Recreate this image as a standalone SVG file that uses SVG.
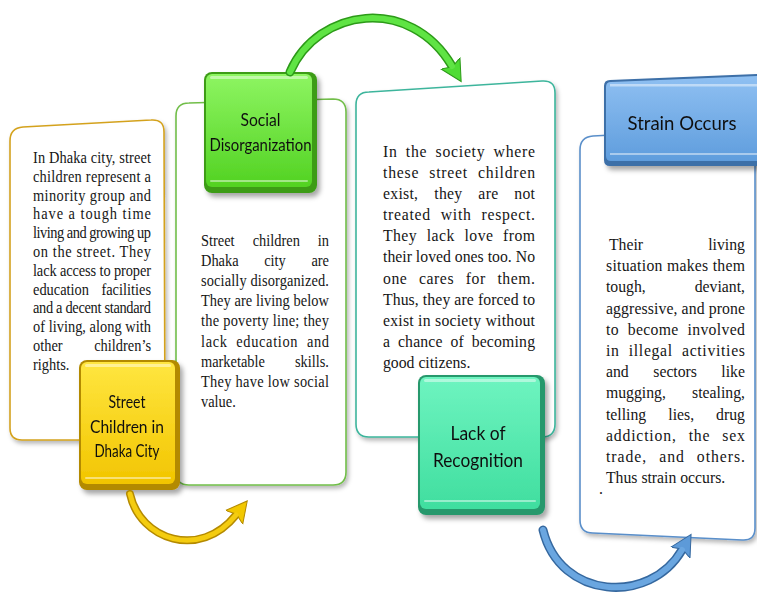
<svg xmlns="http://www.w3.org/2000/svg" width="757" height="592" viewBox="0 0 757 592">
<style>
.card{fill:#fff;stroke-width:1.6;filter:url(#sh)}
.body{font-family:"Liberation Serif","Times New Roman",serif;fill:#161616}
.b1{font-size:16px}.b2{font-size:16px}.b3{font-size:17.5px}.b4{font-size:17.5px}
.ttl{font-family:Lato,"Liberation Sans",sans-serif;fill:#111;text-anchor:middle}
.hl{fill:#fff;opacity:.45}
.end{text-anchor:end}.mid{text-anchor:middle}
</style>
<defs>
<filter id="sh" x="-10%" y="-10%" width="130%" height="130%"><feDropShadow dx="2" dy="3" stdDeviation="2" flood-color="#000" flood-opacity=".28"/></filter>
<filter id="bsh" x="-15%" y="-15%" width="140%" height="140%"><feDropShadow dx="3" dy="4" stdDeviation="2.5" flood-color="#000" flood-opacity=".35"/></filter>
<linearGradient id="gG" x1="0" y1="0" x2="0" y2="1"><stop offset="0" stop-color="#8ef562"/><stop offset="1" stop-color="#52d222"/></linearGradient>
<linearGradient id="gY" x1="0" y1="0" x2="0" y2="1"><stop offset="0" stop-color="#ffe640"/><stop offset="1" stop-color="#f2c500"/></linearGradient>
<linearGradient id="gT" x1="0" y1="0" x2="0" y2="1"><stop offset="0" stop-color="#6ef4c0"/><stop offset="1" stop-color="#40de9f"/></linearGradient>
<linearGradient id="gB" x1="0" y1="0" x2="0" y2="1"><stop offset="0" stop-color="#8fc0f2"/><stop offset="1" stop-color="#5f9ddd"/></linearGradient>
<marker id="mY" viewBox="0 0 24 24" markerWidth="24" markerHeight="24" refX="3" refY="12" orient="auto" markerUnits="userSpaceOnUse"><path d="M0,1 L21,12 L0,23 L4,12 Z" fill="#f2c800" stroke="#b48a00" stroke-width="1"/></marker>
<marker id="mG" viewBox="0 0 24 24" markerWidth="24" markerHeight="24" refX="3" refY="12" orient="auto" markerUnits="userSpaceOnUse"><path d="M0,1 L21,12 L0,23 L4,12 Z" fill="#4fdc34" stroke="#2c9a18" stroke-width="1"/></marker>
<marker id="mB" viewBox="0 0 24 24" markerWidth="24" markerHeight="24" refX="3" refY="12" orient="auto" markerUnits="userSpaceOnUse"><path d="M0,1 L21,12 L0,23 L4,12 Z" fill="#5d9ad8" stroke="#35689f" stroke-width="1"/></marker>
</defs>
<rect width="757" height="592" fill="#fff"/>

<g id="card1">
<path class="card" stroke="#d4a21e" d="M10,141 Q10,128 23,127 L151,120 Q164,119 164,132 L165,428 Q165,440 153,440 L22,440 Q10,440 10,428 Z"/>
<g class="body b1" transform="matrix(0.9,0,0,1,3.3,0)">
<text x="33" y="163" textLength="131.1" lengthAdjust="spacing">In Dhaka city, street</text>
<text x="33" y="181.8" textLength="131.1" lengthAdjust="spacing">children represent a</text>
<text x="33" y="200.6" textLength="131.1" lengthAdjust="spacing">minority group and</text>
<text x="33" y="219.4" textLength="131.1" lengthAdjust="spacing">have a tough time</text>
<text x="33" y="238.2" textLength="131.1" lengthAdjust="spacing">living and growing up</text>
<text x="33" y="257" textLength="131.1" lengthAdjust="spacing">on the street. They</text>
<text x="33" y="275.8" textLength="131.1" lengthAdjust="spacing">lack access to proper</text>
<text x="33" y="294.6">education</text><text class="end" x="164.1" y="294.6">facilities</text>
<text x="33" y="313.4" textLength="131.1" lengthAdjust="spacing">and a decent standard</text>
<text x="33" y="332.2" textLength="131.1" lengthAdjust="spacing">of living, along with</text>
<text x="33" y="351">other</text><text class="end" x="164.1" y="351">children’s</text>
<text x="33" y="369.8">rights.</text>
</g>
</g>

<g id="card2">
<path class="card" stroke="#72be4a" d="M176,116 Q176,103 189,103 L333,99 Q346,99 346,112 L346,472 Q346,485 333,485 L189,485 Q176,485 176,472 Z"/>
<g class="body b2" transform="matrix(0.9,0,0,1,20.1,0)">
<text x="201" y="246">Street</text><text class="mid" x="284.7" y="246">children</text><text class="end" x="343.2" y="246">in</text>
<text x="201" y="266">Dhaka</text><text class="mid" x="283.2" y="266">city</text><text class="end" x="343.2" y="266">are</text>
<text x="201" y="286" textLength="142.2" lengthAdjust="spacing">socially disorganized.</text>
<text x="201" y="306.2" textLength="142.2" lengthAdjust="spacing">They are living below</text>
<text x="201" y="326.4" textLength="142.2" lengthAdjust="spacing">the poverty line; they</text>
<text x="201" y="346.6" textLength="142.2" lengthAdjust="spacing" word-spacing="5">lack education and</text>
<text x="201" y="366.8">marketable</text><text class="end" x="343.2" y="366.8">skills.</text>
<text x="201" y="387" textLength="142.2" lengthAdjust="spacing">They have low social</text>
<text x="201" y="407">value.</text>
</g>
</g>

<g id="card3">
<path class="card" stroke="#3db59c" d="M356,105 Q356,92 369,92 L542,81 Q555,80 555,93 L555,424 Q555,437 542,437 L369,437 Q356,437 356,424 Z"/>
<g class="body b3" transform="matrix(0.9,0,0,1,38.3,0)">
<text x="383" y="157" textLength="168.9" lengthAdjust="spacing" word-spacing="4">In the society where</text>
<text x="383" y="178.1" textLength="168.9" lengthAdjust="spacing" word-spacing="6">these street children</text>
<text x="383" y="199.2" textLength="168.9" lengthAdjust="spacing" word-spacing="13">exist, they are not</text>
<text x="383" y="220.3" textLength="168.9" lengthAdjust="spacing" word-spacing="6">treated with respect.</text>
<text x="383" y="241.4" textLength="168.9" lengthAdjust="spacing" word-spacing="6">They lack love from</text>
<text x="383" y="262.5" textLength="168.9" lengthAdjust="spacing">their loved ones too. No</text>
<text x="383" y="283.6" textLength="168.9" lengthAdjust="spacing" word-spacing="8">one cares for them.</text>
<text x="383" y="304.7" textLength="168.9" lengthAdjust="spacing">Thus, they are forced to</text>
<text x="383" y="325.8" textLength="168.9" lengthAdjust="spacing">exist in society without</text>
<text x="383" y="346.9" textLength="168.9" lengthAdjust="spacing" word-spacing="4">a chance of becoming</text>
<text x="383" y="368">good citizens.</text>
</g>
</g>

<g id="card4">
<path class="card" stroke="#5a8fca" d="M580,150 Q580,137 593,136 L743,128 Q755,127 755,140 L755,528 Q755,541 742,540 L593,533 Q580,533 580,520 Z"/>
<g class="body b4" transform="matrix(0.9,0,0,1,60.6,0)">
<text x="609.3" y="250">Their</text><text class="end" x="760.4" y="250">living</text>
<text x="606" y="271.2" textLength="154.4" lengthAdjust="spacing">situation makes them</text>
<text x="606" y="292.4">tough,</text><text class="end" x="760.4" y="292.4">deviant,</text>
<text x="606" y="313.6" textLength="154.4" lengthAdjust="spacing">aggressive, and prone</text>
<text x="606" y="334.8" textLength="154.4" lengthAdjust="spacing" word-spacing="5">to become involved</text>
<text x="606" y="356" textLength="154.4" lengthAdjust="spacing" word-spacing="5">in illegal activities</text>
<text x="606" y="377.2">and</text><text class="mid" x="682.8" y="377.2">sectors</text><text class="end" x="760.4" y="377.2">like</text>
<text x="606" y="398.4">mugging,</text><text class="end" x="760.4" y="398.4">stealing,</text>
<text x="606" y="419.6">telling</text><text class="mid" x="689.6" y="419.6">lies,</text><text class="end" x="760.4" y="419.6">drug</text>
<text x="606" y="440.8" textLength="154.4" lengthAdjust="spacing" word-spacing="8">addiction, the sex</text>
<text x="606" y="462" textLength="154.4" lengthAdjust="spacing" word-spacing="8">trade, and others.</text>
<text x="606" y="483.2">Thus strain occurs.</text>
<text x="598.2" y="494">.</text>
</g>
</g>

<g id="social-disorganization" filter="url(#bsh)">
<rect x="204" y="72" width="113" height="121" rx="8" fill="#3c9c18"/>
<rect x="206" y="74" width="106" height="113" rx="6" fill="url(#gG)"/>
<rect x="210" y="76" width="98" height="3" rx="1.5" class="hl"/>
<rect x="210" y="180" width="98" height="2" rx="1" class="hl"/>
<text class="ttl" x="260.5" y="126" font-size="18" textLength="40" lengthAdjust="spacingAndGlyphs">Social</text>
<text class="ttl" x="260.5" y="151" font-size="18" textLength="102" lengthAdjust="spacingAndGlyphs">Disorganization</text>
</g>

<g id="street-children" filter="url(#bsh)">
<rect x="79" y="360" width="101" height="130" rx="8" fill="#b38a00"/>
<rect x="81" y="362" width="94" height="122" rx="6" fill="url(#gY)"/>
<rect x="85" y="364" width="86" height="3" rx="1.5" class="hl"/>
<rect x="85" y="477" width="86" height="2" rx="1" class="hl"/>
<text class="ttl" x="127" y="408" font-size="18" textLength="37" lengthAdjust="spacingAndGlyphs">Street</text>
<text class="ttl" x="127" y="433" font-size="18" textLength="74" lengthAdjust="spacingAndGlyphs">Children in</text>
<text class="ttl" x="127" y="457" font-size="18" textLength="65" lengthAdjust="spacingAndGlyphs">Dhaka City</text>
</g>

<g id="lack-of-recognition" filter="url(#bsh)">
<rect x="418" y="375" width="127" height="140" rx="8" fill="#27986c"/>
<rect x="420" y="377" width="120" height="132" rx="6" fill="url(#gT)"/>
<rect x="424" y="379" width="112" height="3" rx="1.5" class="hl"/>
<rect x="424" y="500" width="112" height="2" rx="1" class="hl"/>
<text class="ttl" x="478" y="440" font-size="20" textLength="55" lengthAdjust="spacingAndGlyphs">Lack of</text>
<text class="ttl" x="478" y="467" font-size="20" textLength="90" lengthAdjust="spacingAndGlyphs">Recognition</text>
</g>

<g id="strain-occurs" filter="url(#bsh)">
<path d="M604,86 Q604,80 610,80 L757,74 L757,166 L610,166 Q604,166 604,160 Z" fill="#3d6fa8"/>
<path d="M606,87 Q606,82 611,82 L757,76 L757,161 L611,161 Q606,161 606,156 Z" fill="url(#gB)"/>
<rect x="610" y="84" width="147" height="2.5" class="hl"/>
<rect x="610" y="153" width="147" height="2" class="hl"/>
<text class="ttl" x="682" y="130" font-size="20" textLength="109" lengthAdjust="spacingAndGlyphs">Strain Occurs</text>
</g>

<g id="connectors" fill="none" stroke-linecap="round">
<path d="M130,494 C140,540 200,560 236,515" stroke="#b48a00" stroke-width="8" marker-end="url(#mY)"/>
<path d="M130,494 C140,540 200,560 236,515" stroke="#f4cc10" stroke-width="5"/>
<path d="M290,72 C318,8 410,-5 452,66" stroke="#2c9a18" stroke-width="9" marker-end="url(#mG)"/>
<path d="M290,72 C318,8 410,-5 452,66" stroke="#5fe444" stroke-width="6"/>
<path d="M543,530 C560,600 650,605 682,550" stroke="#35689f" stroke-width="9" marker-end="url(#mB)"/>
<path d="M543,530 C560,600 650,605 682,550" stroke="#6aa6e0" stroke-width="6"/>
</g>
</svg>
